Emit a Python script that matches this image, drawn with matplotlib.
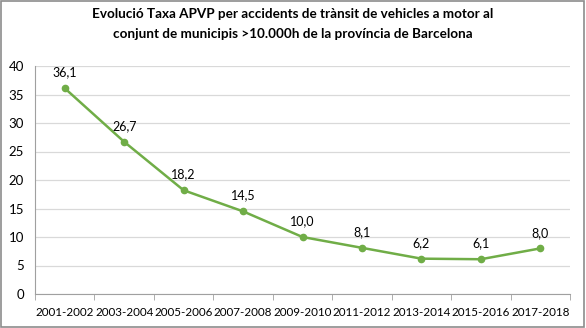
import numpy as np
import matplotlib.pyplot as plt

periodes = ["2001-2002", "2003-2004", "2005-2006", "2007-2008", "2009-2010",
            "2011-2012", "2013-2014", "2015-2016", "2017-2018"]
taxa = [36.1, 26.7, 18.2, 14.5, 10.0, 8.1, 6.2, 6.1, 8.0]

plt.rcParams['font.family'] = ['Lato', 'DejaVu Sans']

fig = plt.figure(figsize=(5.86, 3.28), dpi=100)
ax = fig.add_axes([35 / 586, 1 - 294 / 328, 535 / 586, 228 / 328])

x = np.arange(len(periodes))
verd = "#70AD47"
ax.plot(x, taxa, color=verd, lw=1.8, marker="o", ms=4.5)

for xi, v in zip(x, taxa):
    ax.annotate(f"{v:.1f}".replace(".", ","), (xi, v), xytext=(0, 7),
                textcoords="offset points", ha="center", va="bottom", fontsize=9)

ax.set_xlim(-0.5, len(periodes) - 0.5)
ax.set_ylim(0, 40)
ax.set_yticks(range(0, 41, 5))
ax.set_xticks(x)
ax.set_xticklabels(periodes)
ax.set_xticks(np.arange(-0.5, len(periodes)), minor=True)
ax.tick_params(axis="x", which="major", length=0, pad=9, labelsize=8.4)
ax.tick_params(axis="x", which="minor", length=4, color="#a0a0a0")
ax.tick_params(axis="y", length=0, labelsize=9.5, pad=8)

ax.grid(axis="y", color="#d9d9d9", lw=0.9)
ax.set_axisbelow(True)
for s in ["top", "right"]:
    ax.spines[s].set_visible(False)
ax.spines["left"].set_color("#a0a0a0")
ax.spines["bottom"].set_color("#a0a0a0")

fig.text(0.5, 0.975, "Evolució Taxa APVP per accidents de trànsit de vehicles a motor al\n"
         "conjunt de municipis >10.000h de la província de Barcelona",
         ha="center", va="top", fontsize=9.7, fontweight="bold", linespacing=1.75)

fig.patches.append(plt.Rectangle((0.002, 0.003), 0.995, 0.993, transform=fig.transFigure,
                                 fill=False, edgecolor="#8c8c8c", lw=1.2))

fig.savefig("out.png", dpi=100)
